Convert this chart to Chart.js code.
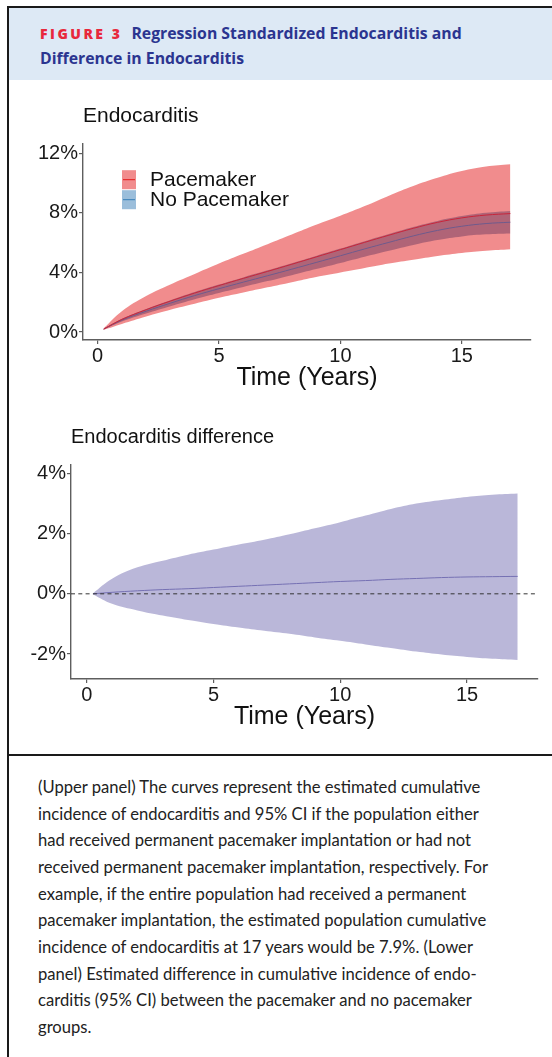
<!DOCTYPE html>
<html lang="en">
<head>
<meta charset="UTF-8">
<title>Figure 3 - Regression Standardized Endocarditis</title>
<script src="https://cdn.jsdelivr.net/npm/chart.js"></script>
<style>
  body { margin: 0; width: 552px; height: 1057px; position: relative; overflow: hidden; background: #fff; }
  .line-top { position: absolute; left: 7px; top: 6px; right: 0; height: 2px; background: #1a1a1a; }
  .line-left { position: absolute; left: 7px; top: 6px; width: 2px; bottom: 0; background: #1a1a1a; }
  .line-sep { position: absolute; left: 7px; top: 754px; right: 0; height: 2px; background: #1a1a1a; }
  .head { position: absolute; left: 9px; top: 8px; right: 0; height: 72px; background: #dde9f5; }
  .head-text { position: absolute; left: 40px; top: 21px; margin: 0; font-family: "Open Sans", sans-serif; font-weight: 700; font-size: 15.8px; line-height: 24px; color: #2b3590; white-space: nowrap; }
  .fig { color: #e8283c; font-size: 14px; font-weight: 800; letter-spacing: 2.5px; margin-right: 9px; }
  .caption { position: absolute; left: 38px; top: 774px; margin: 0; font-family: Lato, sans-serif; font-size: 16.6px; line-height: 26.67px; color: #222; white-space: nowrap; }
  #top, #bottom { position: absolute; left: 0; }
  #top { top: 90px; }
  #bottom { top: 400px; }
</style>
</head>
<body>
<div class="head"></div>
<div class="line-top"></div>
<div class="line-left"></div>
<p class="head-text"><span class="fig">FIGURE 3</span>Regression Standardized Endocarditis and<br>Difference in Endocarditis</p>

<canvas id="top" width="552" height="313"></canvas>
<canvas id="bottom" width="552" height="340"></canvas>

<div class="line-sep"></div>
<p class="caption">(Upper panel) The curves represent the estimated cumulative<br>incidence of endocarditis and 95% CI if the population either<br>had received permanent pacemaker implantation or had not<br>received permanent pacemaker implantation, respectively. For<br>example, if the entire population had received a permanent<br>pacemaker implantation, the estimated population cumulative<br>incidence of endocarditis at 17 years would be 7.9%. (Lower<br>panel) Estimated difference in cumulative incidence of endo-<br>carditis (95% CI) between the pacemaker and no pacemaker<br>groups.</p>

<script>
// time points (years)
const years = [0.25, 1, 2, 3, 4, 5, 6, 7, 8, 9, 10, 11, 12, 13, 14, 15, 16, 17];

// cumulative incidence, %
const pacemaker     = [0.2, 0.85, 1.5, 2.08, 2.62, 3.12, 3.6, 4.07, 4.55, 5.04, 5.53, 6.02, 6.5, 6.96, 7.36, 7.66, 7.85, 7.95];
const pacemakerLow  = [0.15, 0.55, 1.05, 1.5, 1.9, 2.3, 2.65, 3.0, 3.35, 3.7, 4.0, 4.3, 4.6, 4.85, 5.1, 5.3, 5.45, 5.55];
const pacemakerHigh = [0.25, 1.4, 2.42, 3.2, 3.9, 4.6, 5.25, 5.9, 6.55, 7.2, 7.8, 8.45, 9.15, 9.8, 10.35, 10.8, 11.1, 11.25];
const noPacemaker     = [0.2, 0.8, 1.4, 1.94, 2.45, 2.91, 3.35, 3.78, 4.22, 4.67, 5.12, 5.58, 6.02, 6.45, 6.82, 7.1, 7.28, 7.37];
const noPacemakerLow  = [0.18, 0.71, 1.25, 1.74, 2.21, 2.63, 3.03, 3.42, 3.82, 4.23, 4.64, 5.06, 5.46, 5.85, 6.18, 6.42, 6.56, 6.62];
const noPacemakerHigh = [0.22, 0.89, 1.55, 2.14, 2.69, 3.19, 3.67, 4.14, 4.62, 5.11, 5.6, 6.1, 6.58, 7.05, 7.46, 7.78, 8.0, 8.12];

// difference pacemaker - no pacemaker, %
const diff     = [0, 0.05, 0.1, 0.14, 0.17, 0.21, 0.25, 0.29, 0.33, 0.37, 0.41, 0.44, 0.48, 0.51, 0.54, 0.56, 0.57, 0.58];
const diffLow  = [-0.02, -0.33, -0.55, -0.72, -0.87, -1.0, -1.12, -1.23, -1.33, -1.45, -1.56, -1.68, -1.8, -1.92, -2.02, -2.1, -2.16, -2.2];
const diffHigh = [0.02, 0.5, 0.88, 1.1, 1.3, 1.47, 1.64, 1.8, 1.98, 2.18, 2.38, 2.6, 2.82, 3.0, 3.12, 3.22, 3.29, 3.33];

const xTicks = [0, 5, 10, 15];
const yTicksTop = [0, 4, 8, 12];
const yTicksBottom = [-2, 0, 2, 4];

const FONT = 'Liberation Sans, Arial, sans-serif';
const AXIS = '#5e5e5e';

const pts = arr => years.map((x, i) => ({ x: x, y: arr[i] }));

function line(label, arr, color) {
  return { label: label, data: pts(arr), borderColor: color, borderWidth: 1, pointRadius: 0, fill: false, tension: 0.4 };
}
function band(arr, fill, bg) {
  return { data: pts(arr), borderWidth: 0, borderColor: 'rgba(0,0,0,0)', backgroundColor: bg, pointRadius: 0, fill: fill, tension: 0.4 };
}

function scales(xMin, xMax, yMin, yMax, yTicks, yWidth, xHeight) {
  return {
    x: {
      type: 'linear', min: xMin, max: xMax,
      afterBuildTicks: s => { s.ticks = xTicks.map(v => ({ value: v })); },
      afterFit: s => { s.height = xHeight; },
      grid: { display: true, drawOnChartArea: false, drawTicks: true, tickLength: 4, color: AXIS, lineWidth: 1.2 },
      border: { display: true, color: AXIS, width: 1.4 },
      ticks: { color: '#1a1a1a', font: { family: FONT, size: 20 }, padding: 0, maxRotation: 0, autoSkip: false },
      title: { display: true, text: 'Time (Years)', color: '#111', font: { family: FONT, size: 25 }, padding: { top: 0, bottom: 0 } }
    },
    y: {
      type: 'linear', min: yMin, max: yMax,
      afterBuildTicks: s => { s.ticks = yTicks.map(v => ({ value: v })); },
      afterFit: s => { s.width = yWidth; },
      grid: { display: true, drawOnChartArea: false, drawTicks: true, tickLength: 4, color: AXIS, lineWidth: 1.2 },
      border: { display: true, color: AXIS, width: 1.4 },
      ticks: { color: '#1a1a1a', font: { family: FONT, size: 20 }, padding: 1, callback: v => v + '%' }
    }
  };
}

// legend drawn inside the plot, ggplot style
const keyLegend = {
  id: 'keyLegend',
  afterDatasetsDraw(chart) {
    const { ctx, chartArea } = chart;
    const keys = [
      { label: chart.data.datasets[0].label, fill: 'rgba(228,26,28,0.5)', stroke: '#e41a1c' },
      { label: chart.data.datasets[1].label, fill: 'rgba(55,126,184,0.5)', stroke: '#377eb8' }
    ];
    const x0 = chartArea.left + 39, y0 = chartArea.top + 27;
    ctx.save();
    keys.forEach((k, i) => {
      const y = y0 + i * 20;
      ctx.fillStyle = k.fill;
      ctx.fillRect(x0, y, 14, 19);
      ctx.strokeStyle = k.stroke;
      ctx.lineWidth = 1;
      ctx.beginPath();
      ctx.moveTo(x0 + 1, y + 9.5);
      ctx.lineTo(x0 + 13, y + 9.5);
      ctx.stroke();
      ctx.fillStyle = '#111';
      ctx.font = '21px ' + FONT;
      ctx.textBaseline = 'middle';
      ctx.fillText(k.label, x0 + 28, y + 10);
    });
    ctx.restore();
  }
};

// dashed reference line at 0%
const zeroLine = {
  id: 'zeroLine',
  afterDatasetsDraw(chart) {
    const { ctx, chartArea, scales } = chart;
    const y = scales.y.getPixelForValue(0);
    ctx.save();
    ctx.strokeStyle = '#333';
    ctx.lineWidth = 1;
    ctx.setLineDash([4, 3.3]);
    ctx.beginPath();
    ctx.moveTo(chartArea.left, y);
    ctx.lineTo(chartArea.right, y);
    ctx.stroke();
    ctx.restore();
  }
};

new Chart(document.getElementById('top'), {
  type: 'line',
  data: {
    datasets: [
      Object.assign(line('Pacemaker', pacemaker, '#c8243a'), { order: 0 }),
      Object.assign(line('No Pacemaker', noPacemaker, '#6e5a8c'), { order: 1 }),
      Object.assign(band(noPacemakerHigh, '+1', 'rgba(112,62,98,0.5)'), { order: 2 }),
      Object.assign(band(noPacemakerLow, false, 'rgba(0,0,0,0)'), { order: 3 }),
      Object.assign(band(pacemakerHigh, '+1', 'rgba(228,26,28,0.5)'), { order: 4 }),
      Object.assign(band(pacemakerLow, false, 'rgba(0,0,0,0)'), { order: 5 })
    ]
  },
  options: {
    responsive: false,
    animation: false,
    layout: { padding: { left: 0, right: 21, top: 0, bottom: 10 } },
    scales: scales(-0.6, 17.85, -0.53, 12.67, yTicksTop, 83, 53),
    plugins: {
      filler: { drawTime: 'beforeDatasetsDraw' },
      legend: { display: false },
      tooltip: { enabled: false },
      title: { display: true, text: 'Endocarditis', align: 'start', fullSize: false, color: '#111', font: { family: FONT, size: 21, weight: 'normal' }, padding: { top: 14, bottom: 14 } }
    }
  },
  plugins: [keyLegend]
});

new Chart(document.getElementById('bottom'), {
  type: 'line',
  data: {
    datasets: [
      Object.assign(line('Difference', diff, '#7570b3'), { order: 0 }),
      Object.assign(band(diffHigh, '+1', 'rgba(117,112,179,0.5)'), { order: 1 }),
      Object.assign(band(diffLow, false, 'rgba(0,0,0,0)'), { order: 2 })
    ]
  },
  options: {
    responsive: false,
    animation: false,
    layout: { padding: { left: 0, right: 14, top: 0, bottom: 8 } },
    scales: scales(-0.62, 17.8, -2.83, 4.28, yTicksBottom, 71, 53),
    plugins: {
      filler: { drawTime: 'beforeDatasetsDraw' },
      legend: { display: false },
      tooltip: { enabled: false },
      title: { display: true, text: 'Endocarditis difference', align: 'start', fullSize: false, color: '#111', font: { family: FONT, size: 20, weight: 'normal' }, padding: { top: 25, bottom: 16 } }
    }
  },
  plugins: [zeroLine]
});
</script>
</body>
</html>
